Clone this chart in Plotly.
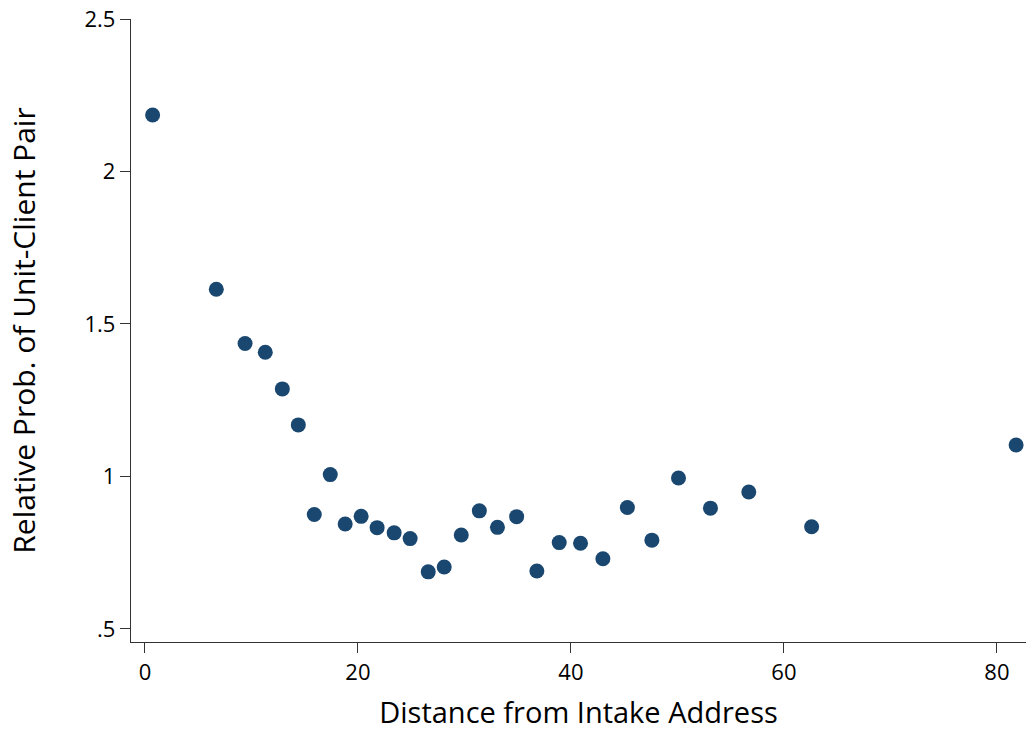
import plotly.graph_objects as go

distance = [0.72, 6.7, 9.4, 11.3, 12.9, 14.4, 15.9, 17.4, 18.8, 20.3, 21.8, 23.4, 24.9,
            26.6, 28.1, 29.7, 31.4, 33.1, 34.9, 36.8, 38.9, 40.9, 43.0, 45.3, 47.6,
            50.1, 53.1, 56.7, 62.6, 81.8]
rel_prob = [2.185, 1.614, 1.436, 1.407, 1.287, 1.169, 0.875, 1.006, 0.844, 0.869, 0.832,
            0.815, 0.796, 0.687, 0.703, 0.808, 0.887, 0.833, 0.868, 0.690, 0.783, 0.781,
            0.730, 0.898, 0.791, 0.995, 0.896, 0.949, 0.835, 1.103]

x_ticks = [0, 20, 40, 60, 80]
y_ticks = [0.5, 1, 1.5, 2, 2.5]
y_tick_text = [".5", "1", "1.5", "2", "2.5"]

FONT = "Open Sans"

fig = go.Figure()
fig.add_trace(go.Scatter(
    x=distance, y=rel_prob, mode="markers",
    marker=dict(size=15, color="#1a476f", line=dict(width=0)),
    cliponaxis=False, showlegend=False,
))

fig.update_layout(
    width=1026, height=736,
    margin=dict(l=131, r=0, t=19, b=94, autoexpand=False),
    paper_bgcolor="white", plot_bgcolor="white",
    font=dict(family=FONT, color="black", size=22),
)
fig.update_xaxes(
    range=[-1.31, 82.73], tickvals=x_ticks,
    showline=True, linecolor="#333333", linewidth=1.3,
    ticks="outside", ticklen=10, tickwidth=1.3, tickcolor="#333333",
    showgrid=False, zeroline=False, automargin=False, ticklabeloverflow="allow",
    tickfont=dict(size=22),
    title=dict(text="Distance from Intake Address", font=dict(size=29), standoff=18),
)
fig.update_yaxes(
    range=[0.457, 2.5], tickvals=y_ticks, ticktext=y_tick_text,
    showline=True, linecolor="#333333", linewidth=1.3,
    ticks="outside", ticklen=10, tickwidth=1.3, tickcolor="#333333",
    showgrid=False, zeroline=False, automargin=False, ticklabeloverflow="allow",
    tickfont=dict(size=22),
    title=dict(text="Relative Prob. of Unit-Client Pair", font=dict(size=30), standoff=40),
)

# remove the page's default body margin so the figure fills the window exactly
fig.write_html("out.html", config={"displayModeBar": False},
               post_script="document.body.style.margin='0';")
